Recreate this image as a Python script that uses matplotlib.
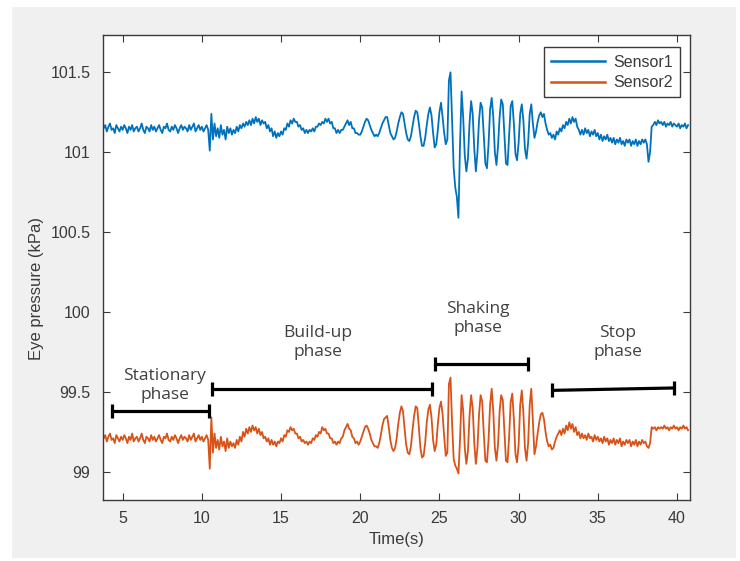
import matplotlib
matplotlib.use("Agg")
import matplotlib.pyplot as plt
from matplotlib.patches import Rectangle
import numpy as np

# Eye pressure readings (kPa), sampled every 0.1 s starting at 3.8 s
t_start = 3.8
dt = 0.1

sensor1 = [
    101.15, 101.17,
    101.13, 101.16, 101.18, 101.14, 101.15, 101.12, 101.17, 101.15, 101.13, 101.16,  # 4
    101.14, 101.17, 101.15, 101.12, 101.16, 101.14, 101.17, 101.13, 101.15, 101.16,  # 5
    101.13, 101.15, 101.18, 101.14, 101.12, 101.16, 101.15, 101.13, 101.17, 101.14,  # 6
    101.16, 101.13, 101.15, 101.17, 101.14, 101.12, 101.16, 101.15, 101.18, 101.14,  # 7
    101.13, 101.16, 101.14, 101.17, 101.15, 101.12, 101.15, 101.17, 101.14, 101.16,  # 8
    101.15, 101.13, 101.17, 101.14, 101.16, 101.18, 101.13, 101.15, 101.17, 101.14,  # 9
    101.16, 101.13, 101.15, 101.17, 101.14, 101.01, 101.24, 101.08, 101.18, 101.10,  # 10
    101.15, 101.09, 101.17, 101.11, 101.14, 101.08, 101.16, 101.12, 101.15, 101.11,  # 11
    101.14, 101.12, 101.16, 101.13, 101.17, 101.15, 101.18, 101.16, 101.19, 101.17,  # 12
    101.20, 101.17, 101.21, 101.18, 101.22, 101.19, 101.21, 101.17, 101.20, 101.18,  # 13
    101.19, 101.15, 101.17, 101.13, 101.15, 101.10, 101.13, 101.09, 101.12, 101.10,  # 14
    101.13, 101.11, 101.15, 101.14, 101.18, 101.16, 101.20, 101.18, 101.21, 101.19,  # 15
    101.19, 101.16, 101.17, 101.14, 101.15, 101.12, 101.14, 101.12, 101.14, 101.13,  # 16
    101.15, 101.13, 101.16, 101.16, 101.18, 101.17, 101.19, 101.18, 101.21, 101.19,  # 17
    101.21, 101.18, 101.19, 101.15, 101.15, 101.12, 101.14, 101.12, 101.14, 101.14,  # 18
    101.16, 101.18, 101.20, 101.17, 101.19, 101.15, 101.15, 101.12, 101.12, 101.11,  # 19
    101.11, 101.13, 101.16, 101.19, 101.21, 101.20, 101.17, 101.14, 101.12, 101.10,  # 20
    101.11, 101.10, 101.12, 101.15, 101.18, 101.20, 101.22, 101.22, 101.17, 101.12,  # 21
    101.10, 101.08, 101.09, 101.13, 101.18, 101.22, 101.25, 101.24, 101.18, 101.12,  # 22
    101.08, 101.07, 101.10, 101.16, 101.22, 101.26, 101.25, 101.18, 101.10, 101.04,  # 23
    101.04, 101.09, 101.17, 101.24, 101.28, 101.23, 101.12, 101.03, 101.05, 101.14,  # 24
    101.25, 101.31, 101.22, 101.12, 101.05, 101.08, 101.45, 101.50, 101.20, 100.90,  # 25
    100.78, 100.72, 100.59, 101.05, 101.38, 101.22, 100.98, 100.88, 100.96, 101.18,  # 26
    101.32, 101.24, 101.02, 100.88, 101.00, 101.20, 101.31, 101.28, 101.10, 100.93,  # 27
    100.90, 101.05, 101.27, 101.34, 101.22, 101.00, 100.92, 101.04, 101.22, 101.33,  # 28
    101.30, 101.12, 100.93, 100.92, 101.10, 101.29, 101.32, 101.18, 100.99, 100.95,  # 29
    101.06, 101.24, 101.30, 101.20, 101.02, 100.96, 101.06, 101.24, 101.30, 101.18,  # 30
    101.09, 101.13, 101.19, 101.23, 101.25, 101.22, 101.24, 101.18, 101.14, 101.11,  # 31
    101.12, 101.09, 101.11, 101.08, 101.13, 101.11, 101.15, 101.13, 101.17, 101.15,  # 32
    101.19, 101.17, 101.21, 101.18, 101.22, 101.19, 101.21, 101.16, 101.14, 101.11,  # 33
    101.14, 101.11, 101.15, 101.12, 101.14, 101.10, 101.13, 101.11, 101.14, 101.10,  # 34
    101.12, 101.08, 101.11, 101.07, 101.10, 101.08, 101.11, 101.07, 101.09, 101.06,  # 35
    101.09, 101.05, 101.08, 101.06, 101.09, 101.05, 101.07, 101.04, 101.08, 101.06,  # 36
    101.08, 101.04, 101.07, 101.05, 101.08, 101.04, 101.07, 101.05, 101.08, 101.06,  # 37
    101.08, 101.05, 100.94, 101.00, 101.16, 101.17, 101.19, 101.17, 101.20, 101.18,  # 38
    101.19, 101.17, 101.19, 101.16, 101.18, 101.17, 101.19, 101.16, 101.18, 101.17,  # 39
    101.16, 101.18, 101.15, 101.17, 101.16, 101.18, 101.15, 101.17,                  # 40
]

sensor2 = [
    99.21, 99.23,
    99.19, 99.22, 99.24, 99.20, 99.21, 99.18, 99.23, 99.21, 99.19, 99.22,  # 4
    99.20, 99.23, 99.21, 99.18, 99.22, 99.20, 99.24, 99.19, 99.21, 99.22,  # 5
    99.19, 99.21, 99.24, 99.20, 99.18, 99.22, 99.21, 99.19, 99.23, 99.20,  # 6
    99.22, 99.19, 99.21, 99.23, 99.20, 99.18, 99.22, 99.21, 99.24, 99.20,  # 7
    99.19, 99.22, 99.20, 99.23, 99.21, 99.18, 99.21, 99.23, 99.20, 99.22,  # 8
    99.21, 99.19, 99.23, 99.20, 99.22, 99.24, 99.19, 99.21, 99.23, 99.20,  # 9
    99.22, 99.19, 99.21, 99.23, 99.20, 99.02, 99.34, 99.12, 99.24, 99.15,  # 10
    99.20, 99.14, 99.22, 99.16, 99.19, 99.13, 99.21, 99.15, 99.19, 99.16,  # 11
    99.18, 99.15, 99.20, 99.17, 99.22, 99.19, 99.25, 99.22, 99.27, 99.24,  # 12
    99.28, 99.25, 99.29, 99.26, 99.28, 99.24, 99.27, 99.23, 99.25, 99.21,  # 13
    99.22, 99.19, 99.21, 99.17, 99.20, 99.17, 99.19, 99.16, 99.19, 99.18,  # 14
    99.21, 99.19, 99.23, 99.22, 99.26, 99.25, 99.28, 99.26, 99.27, 99.24,  # 15
    99.24, 99.21, 99.22, 99.19, 99.20, 99.18, 99.19, 99.17, 99.19, 99.18,  # 16
    99.21, 99.20, 99.23, 99.22, 99.25, 99.24, 99.28, 99.26, 99.27, 99.24,  # 17
    99.24, 99.21, 99.21, 99.18, 99.19, 99.17, 99.19, 99.18, 99.21, 99.22,  # 18
    99.26, 99.28, 99.30, 99.27, 99.26, 99.22, 99.21, 99.18, 99.19, 99.17,  # 19
    99.19, 99.22, 99.25, 99.28, 99.29, 99.27, 99.24, 99.20, 99.18, 99.16,  # 20
    99.16, 99.15, 99.18, 99.23, 99.29, 99.33, 99.34, 99.35, 99.28, 99.20,  # 21
    99.15, 99.13, 99.15, 99.21, 99.30, 99.37, 99.41, 99.38, 99.27, 99.17,  # 22
    99.12, 99.11, 99.16, 99.26, 99.35, 99.41, 99.40, 99.28, 99.15, 99.09,  # 23
    99.10, 99.18, 99.31, 99.39, 99.42, 99.34, 99.20, 99.13, 99.17, 99.30,  # 24
    99.40, 99.44, 99.36, 99.22, 99.10, 99.12, 99.55, 99.59, 99.30, 99.08,  # 25
    99.04, 99.02, 98.99, 99.20, 99.48, 99.38, 99.15, 99.05, 99.13, 99.35,  # 26
    99.48, 99.40, 99.18, 99.05, 99.15, 99.36, 99.48, 99.44, 99.24, 99.07,  # 27
    99.06, 99.20, 99.42, 99.52, 99.38, 99.15, 99.07, 99.17, 99.38, 99.48,  # 28
    99.45, 99.26, 99.07, 99.06, 99.22, 99.44, 99.49, 99.33, 99.11, 99.06,  # 29
    99.17, 99.42, 99.51, 99.37, 99.15, 99.07, 99.18, 99.42, 99.52, 99.32,  # 30
    99.11, 99.16, 99.24, 99.31, 99.36, 99.37, 99.33, 99.25, 99.19, 99.16,  # 31
    99.17, 99.14, 99.15, 99.19, 99.22, 99.24, 99.26, 99.23, 99.27, 99.24,  # 32
    99.29, 99.26, 99.31, 99.27, 99.30, 99.25, 99.28, 99.23, 99.25, 99.21,  # 33
    99.24, 99.21, 99.23, 99.20, 99.24, 99.21, 99.22, 99.19, 99.23, 99.20,  # 34
    99.22, 99.19, 99.21, 99.18, 99.22, 99.19, 99.21, 99.17, 99.20, 99.18,  # 35
    99.21, 99.17, 99.20, 99.18, 99.21, 99.16, 99.19, 99.17, 99.20, 99.18,  # 36
    99.20, 99.16, 99.19, 99.17, 99.20, 99.16, 99.19, 99.17, 99.20, 99.18,  # 37
    99.19, 99.16, 99.15, 99.18, 99.28, 99.27, 99.28, 99.26, 99.28, 99.27,  # 38
    99.28, 99.27, 99.29, 99.27, 99.28, 99.26, 99.28, 99.27, 99.29, 99.27,  # 39
    99.28, 99.26, 99.28, 99.27, 99.29, 99.27, 99.28, 99.26,                # 40
]

# Phase markers: label, start/end time (s), start/end height (kPa), label position
phase_labels = ["Stationary\nphase", "Build-up\nphase", "Shaking\nphase", "Stop\nphase"]
phase_t0 = [4.30, 10.65, 24.71, 32.08]
phase_t1 = [10.46, 24.56, 30.60, 39.80]
phase_y0 = [99.383, 99.52, 99.675, 99.51]
phase_y1 = [99.383, 99.52, 99.675, 99.525]
label_x = [7.66, 17.3, 27.42, 36.26]
label_y = [99.54, 99.81, 99.96, 99.81]

t = t_start + dt * np.arange(len(sensor1))

fig = plt.figure(figsize=(7.4, 5.61), dpi=100, facecolor="white")
fig.patches.append(Rectangle((0.016, 0.005), 0.979, 0.982, transform=fig.transFigure,
                             facecolor="#f0f0f0", edgecolor="none", zorder=-10))
ax = fig.add_axes([0.139, 0.109, 0.793, 0.829])
ax.set_facecolor("white")

ax.plot(t, sensor1, color="#0072BD", lw=1.3, label="Sensor1")
ax.plot(t, sensor2, color="#D95319", lw=1.3, label="Sensor2")

for lab, x0, x1, y0, y1, lx, ly in zip(phase_labels, phase_t0, phase_t1,
                                        phase_y0, phase_y1, label_x, label_y):
    ax.plot([x0, x1], [y0, y1], color="black", lw=2.3, solid_capstyle="butt")
    ax.plot([x0, x1], [y0, y1], ls="none", marker="|", ms=10, mew=2.3, color="black")
    ax.text(lx, ly, lab, ha="center", va="center", fontsize=12.5, color="#404040",
            family="Open Sans", linespacing=1.3)

ax.set_xlim(3.75, 40.8)
ax.set_ylim(98.825, 101.735)
ax.set_xticks(range(5, 41, 5))
ax.set_yticks([99, 99.5, 100, 100.5, 101, 101.5])
ax.set_yticklabels(["99", "99.5", "100", "100.5", "101", "101.5"])

axis_col = "#3a3a3a"
for s in ax.spines.values():
    s.set_color(axis_col)
    s.set_linewidth(1.0)
ax.tick_params(direction="in", length=5, width=0.8, color=axis_col,
               top=True, right=True, labelsize=11.5, labelcolor="#3a3a3a")
ax.tick_params(axis="y", pad=9)
ax.tick_params(axis="x", pad=8)
for lbl in ax.get_xticklabels() + ax.get_yticklabels():
    lbl.set_family("Liberation Sans")

ax.set_xlabel("Time(s)", fontsize=12, color="#3a3a3a", family="Liberation Sans", labelpad=4)
ax.set_ylabel("Eye pressure (kPa)", fontsize=12, color="#3a3a3a", family="Liberation Sans")
ax.yaxis.set_label_coords(-0.10, 0.455)

leg = ax.legend(loc="upper right", bbox_to_anchor=(0.984, 0.973), borderaxespad=0,
                fancybox=False, framealpha=1, edgecolor=axis_col, handlelength=3.4,
                borderpad=0.45, labelspacing=0.35, handletextpad=0.5,
                prop={"family": "Liberation Sans", "size": 11.5})
leg.get_frame().set_linewidth(1.0)
for line in leg.get_lines():
    line.set_linewidth(1.8)
for txt in leg.get_texts():
    txt.set_color("#3a3a3a")

fig.savefig("out.png", dpi=100, facecolor=fig.get_facecolor())
